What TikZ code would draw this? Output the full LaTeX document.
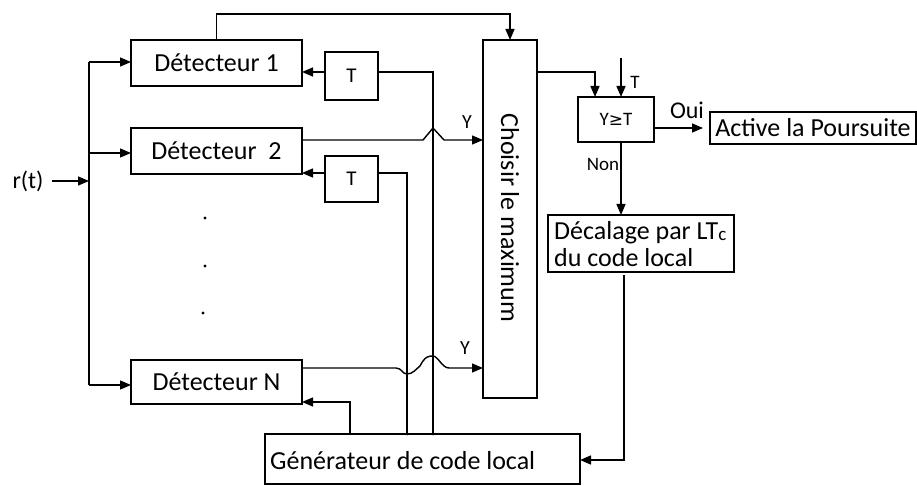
\documentclass[tikz,border=0pt]{standalone}
\usepackage{fontspec}
\setmainfont{Carlito}
\newfontfamily\dejavu{DejaVu Sans}
\usetikzlibrary{arrows.meta,calc}
\begin{document}
\begin{tikzpicture}[x=1pt,y=-1pt,
  box/.style={draw,line width=1.4pt,inner sep=0pt,outer sep=0pt,font=\fontsize{26}{27}\selectfont},
  conn/.style={line width=1.4pt},
  arr/.style={conn,-{Triangle[length=11pt,width=9pt]}},
  lbl/.style={inner sep=0pt,font=\fontsize{20}{24}\selectfont}]
\useasboundingbox (0,0) rectangle (917,486);

% boxes
\node[box,minimum width=171pt,minimum height=46pt] (d1) at (216.5,63) {Détecteur 1};
\node[box,minimum width=171pt,minimum height=46pt] (d2) at (216.5,151) {Détecteur~~2};
\node[box,minimum width=171pt,minimum height=44pt] (dN) at (216.5,382) {Détecteur N};
\node[box,minimum width=53pt,minimum height=48pt,font=\fontsize{21}{22}\selectfont] (t1) at (351.5,76) {T};
\node[box,minimum width=53pt,minimum height=46pt,font=\fontsize{21}{22}\selectfont] (t2) at (351.5,179) {T};
\node[box,minimum width=54pt,minimum height=358pt] (ch) at (510,219) {};
\node[inner sep=0pt,rotate=-90,font=\fontsize{26}{27}\selectfont] (chtxt) at (510,218) {Choisir le maximum};
\node[box,minimum width=76pt,minimum height=45pt,font=\fontsize{19}{20}\selectfont] (cmp) at (616,119.5) {Y{\dejavu\fontsize{17}{18}\selectfont ≥}T};
\node[box,minimum width=206pt,minimum height=32pt] (act) at (813,128) {Active la Poursuite};
\node[box,minimum width=186pt,minimum height=57pt] (dec) at (641,243.5) {};
\node[inner sep=0pt,anchor=west,align=left,font=\fontsize{26}{27}\selectfont] (dectxt) at (554,244.5)
  {Décalage par LT\raisebox{-1pt}{\fontsize{19}{20}\selectfont c}\\ du code local};
\node[box,minimum width=315pt,minimum height=50pt] (gen) at (422.5,459) {};
\node[inner sep=0pt,anchor=west,font=\fontsize{26}{27}\selectfont] (gentxt) at (270,461) {Générateur de code local};

% input and bus
\node[inner sep=0pt,font=\fontsize{24}{26}\selectfont] (rt) at (28,181) {r(t)};
\coordinate (bt) at (89,62);
\coordinate (b2) at (89,153);
\coordinate (br) at (89,181);
\coordinate (bb) at (89,385);
\draw[conn] (bt) -- (bb);
\draw[arr] ([xshift=8pt]rt.east) -- (br);
\draw[arr] (bt) -- (bt -| d1.west);
\draw[arr] (b2) -- (b2 -| d2.west);
\draw[arr] (bb) -- (bb -| dN.west);

% top line to Choisir
\draw[arr] (d1.north) -- ++(0,-26) -| (ch.north);

% T blocks
\coordinate (v1) at ($(gen.north west)+(168,0)$);
\coordinate (v2) at ($(gen.north west)+(142,0)$);
\coordinate (v3) at ($(gen.north west)+(85,0)$);
\draw[arr] ([yshift=4pt]t1.west) -- ([yshift=4pt]t1.west -| d1.east);
\draw[conn] ([yshift=4pt]t1.east) -| (v1);
\draw[arr] ([yshift=6pt]t2.west) -- ([yshift=6pt]t2.west -| d2.east);
\draw[conn] ([yshift=6pt]t2.east) -| (v2);
\fill (v1) circle (1.5pt);
\fill (v2) circle (1.5pt);

% generator to detector N
\draw[arr] (v3) |- ([yshift=2pt]dN.south east);

% detector 2 output with hop
\coordinate (h2a) at ($(v1 |- 0,140)+(-10,0)$);
\coordinate (h2b) at ($(v1 |- 0,140)+(0,-12)$);
\coordinate (h2c) at ($(v1 |- 0,140)+(11,0)$);
\draw[arr] ([yshift=11pt]d2.east) -- (h2a) -- (h2b) -- (h2c) -- (h2c -| ch.west);
\node[lbl] (y1) at (467,122) {Y};

% detector N output with crossings
\draw[arr] ([yshift=14pt]dN.east) -- (396,368)
  .. controls (402,368) and (402,374) .. (407,374)
  .. controls (413,374) and (416,369) .. (420,366)
  .. controls (425,356) and (429,356) .. (433,356)
  .. controls (438,356) and (442,368) .. (449,368)
  -- (483,368);
\node[lbl] (y2) at (465,348) {Y};

% dots
\fill (205,218) circle (1.6pt);
\fill (205,266) circle (1.6pt);
\fill (203,313) circle (1.6pt);

% Choisir to comparator
\coordinate (cin) at ($(cmp.north)+(-21,0)$);
\draw[arr] ([yshift=147pt]ch.east) -| (cin);
\coordinate (tin) at ($(cmp.north)+(5,0)$);
\draw[arr] ($(tin)+(0,-39)$) -- (tin);
\node[lbl,font=\fontsize{19}{20}\selectfont] (tl) at (635,82) {T};

% Oui / Non
\draw[arr] (cmp.east |- act.west) -- ([xshift=-7pt]act.west);
\node[lbl,font=\fontsize{24}{26}\selectfont] (oui) at (687,110) {Oui};
\coordinate (nonx) at ($(cmp.south)+(5,0)$);
\draw[arr] (nonx) -- (nonx |- dec.north);
\node[lbl,font=\fontsize{19}{22}\selectfont] (non) at (603,164) {Non};

% decalage to generator
\coordinate (dx) at ($(dec.south west)+(76,3)$);
\draw[arr] (dx) |- ([yshift=-1pt]gen.east);
\end{tikzpicture}
\end{document}
